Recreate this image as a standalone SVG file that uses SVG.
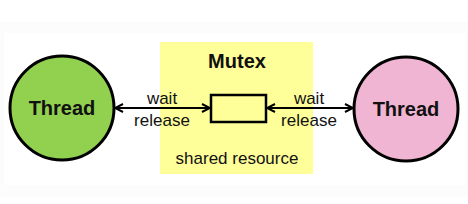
<svg xmlns="http://www.w3.org/2000/svg" width="468" height="204" viewBox="0 0 468 204">
<style>
text{font-family:"Liberation Sans",Arial,sans-serif;fill:#111;text-anchor:middle}
.b{font-weight:bold;font-size:20px}
.l{font-size:17px}
.c{stroke:#000;stroke-width:3}
.w{stroke:#000;stroke-width:2;fill:none}
</style>
<defs>
<marker id="ah" viewBox="0 0 10 10" refX="9" refY="5" markerWidth="10" markerHeight="10" markerUnits="userSpaceOnUse" orient="auto-start-reverse">
<path d="M1,1 L9,5 L1,9" fill="none" stroke="#000" stroke-width="2"/>
</marker>
</defs>
<rect x="0" y="22" width="468" height="175" fill="#fcfcfc"/>
<rect x="4" y="33" width="461" height="152" fill="#fff"/>
<g id="mutex">
<rect x="160" y="42" width="153" height="132" fill="#ffff99"/>
<text class="b" x="237" y="68">Mutex</text>
<text class="l" x="237" y="164">shared resource</text>
</g>
<g id="resource">
<rect x="211" y="95" width="55" height="27" fill="#ffff99" stroke="#000" stroke-width="2.5"/>
</g>
<g id="thread1">
<circle cx="62" cy="108" r="52" fill="#92d050" class="c"/>
<text class="b" x="62" y="115">Thread</text>
</g>
<g id="thread2">
<circle cx="406" cy="109" r="52" fill="#f0b5d3" class="c"/>
<text class="b" x="406" y="116">Thread</text>
</g>
<g id="connectors">
<line x1="115" y1="108" x2="210" y2="108" class="w" marker-start="url(#ah)" marker-end="url(#ah)"/>
<line x1="267" y1="108" x2="353" y2="108" class="w" marker-start="url(#ah)" marker-end="url(#ah)"/>
<text class="l" x="162" y="104">wait</text>
<text class="l" x="162" y="126">release</text>
<text class="l" x="309" y="104">wait</text>
<text class="l" x="309" y="126">release</text>
</g>
</svg>
